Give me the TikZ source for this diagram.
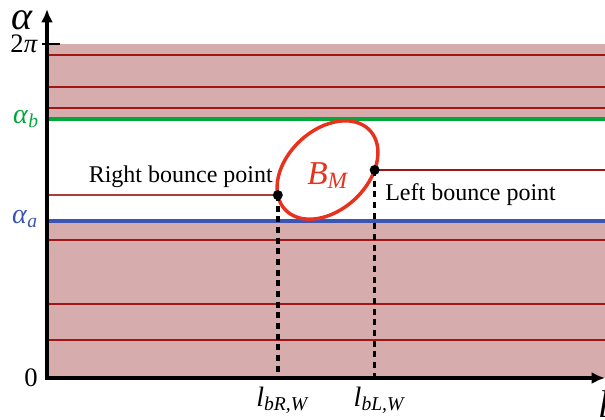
\documentclass[tikz,border=0pt]{standalone}
\usepackage{fontspec}
\setmainfont{Liberation Serif}
\usetikzlibrary{arrows.meta,calc}
\definecolor{bandpink}{RGB}{214,172,172}
\definecolor{bandred}{RGB}{160,22,22}
\definecolor{bouncebrown}{RGB}{170,60,60}
\definecolor{alphagreen}{RGB}{0,168,58}
\definecolor{alphablue}{RGB}{58,85,180}
\definecolor{ellred}{RGB}{232,50,30}
\tikzset{
  bandline/.style={bandred, line width=1.1pt},
  axisline/.style={black, line width=2.6pt, line join=miter},
  dashline/.style={black, line width=2.6pt, dash pattern=on 4.5pt off 3.5pt},
  bdot/.style={circle, fill=black, inner sep=0pt, minimum size=7.5pt},
  lab/.style={inner sep=0pt, font=\fontsize{18}{20}\selectfont},
}
\begin{document}
\begin{tikzpicture}[x=0.75pt,y=-0.75pt]
\useasboundingbox (0,0) rectangle (605,419);
% axes reference points
\coordinate (O) at (47,378);
\coordinate (ytop) at (47,9);
\coordinate (xend) at (605,378);
% pink bands
\fill[bandpink] (47,44) rectangle (605,119);
\fill[bandpink] (47,221) rectangle (605,378);
% thin red lines
\foreach \yy in {87,108,240,304,340}
  \draw[bandline] (47,\yy) -- (605,\yy);
\draw[bandline, line width=1.6pt] (47,55) -- (605,55);
% alpha_b and alpha_a lines
\draw[alphagreen, line width=3.2pt] (47,119) -- (605,119);
\draw[alphablue, line width=2.4pt] (47,221) -- (605,221);
% ellipse and bounce points
\begin{scope}[shift={(327.5,170)}, rotate=43]
  \draw[ellred, line width=2.6pt] (0,0) ellipse [x radius=43.5pt, y radius=30pt];
  \coordinate (pR) at (157.1:43.5pt and 30pt);
  \coordinate (pL) at (-53.5:43.5pt and 30pt);
\end{scope}
\draw[bouncebrown, line width=0.9pt] (pR) -- (pR -| O);
\draw[bandline] (pL) -- (pL -| xend);
\draw[dashline] (pR) -- (pR |- O);
\draw[dashline] (pL) -- (pL |- O);
\node[bdot] (dR) at (pR) {};
\node[bdot] (dL) at (pL) {};
% axes
\draw[axisline, {Latex[length=10pt,width=9pt]}-{Latex[length=10pt,width=9pt]}] (ytop) -- (O) -- (xend);
\draw[axisline, line width=2.2pt] (42,44) coordinate (t1) -- (60,44) coordinate (t2);
% labels
\node[lab, font=\fontsize{30}{32}\selectfont] (alpha) at (22,20) {\textit{α}};
\node[lab, font=\fontsize{29}{31}\selectfont, anchor=north west] (ell) at (598,390) {\textit{l}};
\node[lab, anchor=east, font=\fontsize{20}{22}\selectfont] (twopi) at (38,44) {2\textit{π}};
\node[lab, anchor=mid east, text=alphagreen, font=\fontsize{21}{23}\selectfont] (ab) at (39,120) {\textit{α}\textsubscript{\textit{b}}};
\node[lab, anchor=mid east, text=alphablue, font=\fontsize{21}{23}\selectfont] (aa) at (38,220) {\textit{α}\textsubscript{\textit{a}}};
\node[lab, font=\fontsize{20}{22}\selectfont] (zero) at (31,378) {0};
\node[lab, anchor=base east] (rbp) at (273,182) {Right bounce point};
\node[lab, anchor=base west] (lbp) at (385,200) {Left bounce point};
\node[lab, anchor=base west, text=ellred, font=\fontsize{25}{27}\selectfont] (BM) at (307,184) {\textit{B}\textsubscript{\textit{M}}};
\node[lab, anchor=north, font=\fontsize{21}{23}\selectfont] (lR) at ($(dR |- O)+(5,9)$) {\textit{l}\textsubscript{\textit{bR,W}}};
\node[lab, anchor=north, font=\fontsize{21}{23}\selectfont] (lL) at ($(dL |- O)+(5,9)$) {\textit{l}\textsubscript{\textit{bL,W}}};
\end{tikzpicture}
\end{document}
